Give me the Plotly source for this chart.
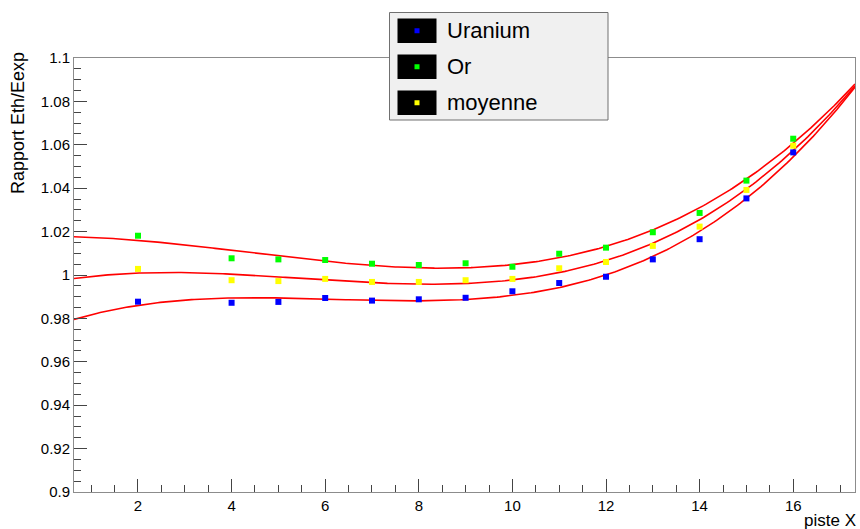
import numpy as np
import plotly.graph_objects as go

# ---- data ----
piste = [2, 4, 5, 6, 7, 8, 9, 10, 11, 12, 13, 14, 15, 16]
uranium = [0.9877, 0.9872, 0.9876, 0.9894, 0.9882, 0.9888, 0.9895, 0.9925,
           0.9963, 0.9992, 1.0072, 1.0165, 1.0353, 1.0565]
orr = [1.0181, 1.0077, 1.0072, 1.0069, 1.0052, 1.0046, 1.0054, 1.0038,
       1.0098, 1.0126, 1.0197, 1.0286, 1.0435, 1.0628]
moyenne = [1.0028, 0.9976, 0.9972, 0.9982, 0.9968, 0.9968, 0.9976, 0.9982,
           1.0031, 1.0060, 1.0134, 1.0223, 1.0392, 1.0596]

series_names = ["Uranium", "Or", "moyenne"]
series_colors = ["#0000ff", "#00ff00", "#ffff00"]
series_values = [uranium, orr, moyenne]

y_tickvals = [0.9, 0.92, 0.94, 0.96, 0.98, 1.0, 1.02, 1.04, 1.06, 1.08, 1.1]
y_ticktext = ["0.9", "0.92", "0.94", "0.96", "0.98", "1", "1.02", "1.04", "1.06", "1.08", "1.1"]
x_tickvals = [2, 4, 6, 8, 10, 12, 14, 16]

X_RANGE = [0.633, 17.32]
Y_RANGE = [0.9, 1.1]

fig = go.Figure()

# polynomial (pol3) fits of each series, drawn as red curves
xf = np.linspace(X_RANGE[0], X_RANGE[1], 300)
for vals in series_values:
    c = np.polyfit(piste, vals, 3)
    fig.add_trace(go.Scatter(x=xf, y=np.polyval(c, xf), mode="lines",
                             line=dict(color="#ff0000", width=1.6),
                             showlegend=False, hoverinfo="skip"))

for name, col, vals in zip(series_names, series_colors, series_values):
    fig.add_trace(go.Scatter(x=piste, y=vals, mode="markers", name=name,
                             marker=dict(symbol="square", size=6, color=col,
                                         line=dict(width=0)),
                             showlegend=False))

axis_common = dict(showgrid=False, zeroline=False, showline=True,
                   linecolor="#8c8c8c", linewidth=1, mirror=True,
                   ticks="inside", tickcolor="#444444", tickwidth=1,
                   tickfont=dict(family="Liberation Sans", size=15, color="black"))

fig.update_xaxes(range=X_RANGE, tickvals=x_tickvals, ticklen=13,
                 minor=dict(dtick=0.5, tick0=0, ticklen=7, ticks="inside",
                            tickcolor="#444444", showgrid=False),
                 **axis_common)
fig.update_yaxes(range=Y_RANGE, tickvals=y_tickvals, ticktext=y_ticktext, ticklen=13,
                 minor=dict(dtick=0.005, tick0=0.9, ticklen=7, ticks="inside",
                            tickcolor="#444444", showgrid=False),
                 **axis_common)

W, H = 860, 529
L, R, T, B = 74, 5, 58, 37
pw, ph = W - L - R, H - T - B

def px(xp):
    return (xp - L) / pw

def py(yp):
    return (H - B - yp) / ph

shapes = []
annotations = []
# legend box
shapes.append(dict(type="rect", xref="paper", yref="paper",
                   x0=px(389.5), x1=px(608), y0=py(120), y1=py(12.5),
                   fillcolor="#f0f0f0", line=dict(color="#707070", width=1)))
row_tops = [18.5, 54.5, 90.5]
for (name, col), yt in zip(zip(series_names, series_colors), row_tops):
    shapes.append(dict(type="rect", xref="paper", yref="paper",
                       x0=px(397.5), x1=px(436.5), y0=py(yt + 24.5), y1=py(yt),
                       fillcolor="black", line=dict(width=0)))
    yc = yt + 12.25
    shapes.append(dict(type="rect", xref="paper", yref="paper",
                       x0=px(414.5), x1=px(419.5), y0=py(yc + 2.5), y1=py(yc - 2.5),
                       fillcolor=col, line=dict(width=0)))
    annotations.append(dict(text=name, xref="paper", yref="paper",
                            x=px(445), y=py(yc), xanchor="left", yanchor="middle",
                            showarrow=False,
                            font=dict(family="Liberation Sans", size=22, color="black")))

annotations.append(dict(text="Rapport Eth/Eexp", xref="paper", yref="paper",
                        x=px(18), y=py(50), xanchor="center", yanchor="top",
                        textangle=-90, showarrow=False,
                        font=dict(family="Liberation Sans", size=18, color="black")))
annotations.append(dict(text="piste X", xref="paper", yref="paper",
                        x=px(858), y=py(520), xanchor="right", yanchor="middle",
                        showarrow=False,
                        font=dict(family="Liberation Sans", size=17, color="black")))

fig.update_layout(width=W, height=H, margin=dict(l=L, r=R, t=T, b=B),
                  paper_bgcolor="white", plot_bgcolor="white",
                  shapes=shapes, annotations=annotations, showlegend=False)

fig.write_html("out.html", config={"displayModeBar": False})

# remove the default page margin so the figure sits at the window's corner
with open("out.html", "r", encoding="utf-8") as f:
    html = f.read()
html = html.replace("<body>", '<body style="margin:0;padding:0;overflow:hidden">', 1)
with open("out.html", "w", encoding="utf-8") as f:
    f.write(html)
